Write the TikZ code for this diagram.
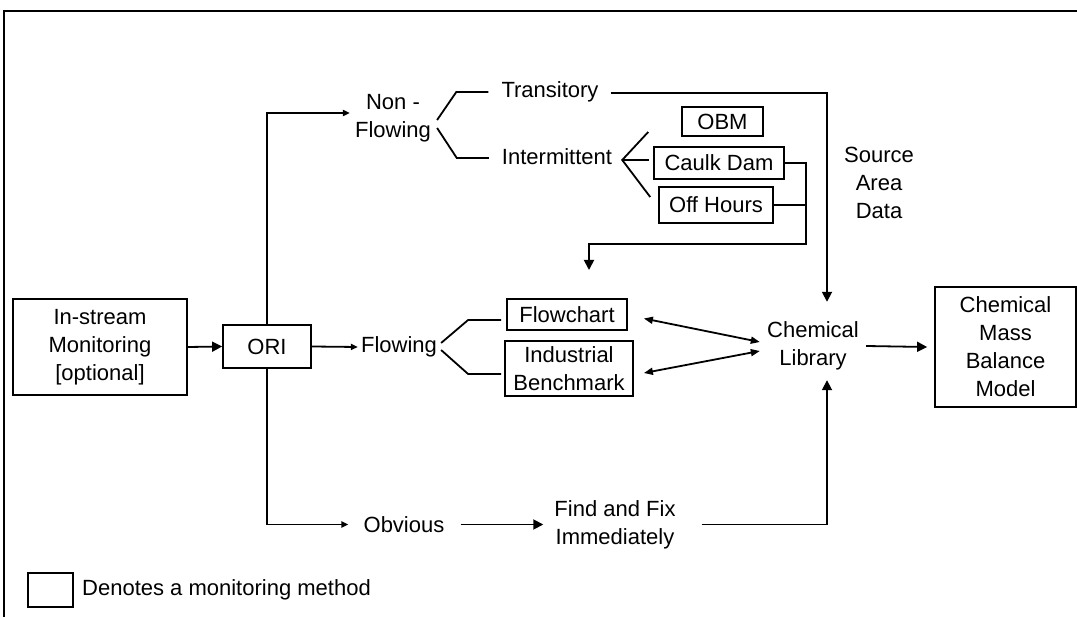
\documentclass[tikz,border=0pt]{standalone}
\usepackage{fontspec}
\setmainfont{Liberation Sans}
\usetikzlibrary{arrows.meta,calc}

\begin{document}
\begin{tikzpicture}[x=1pt,y=-1pt,
  every node/.style={font=\fontsize{22}{28}\selectfont},
  lbl/.style={inner sep=0pt, align=center},
  box/.style={draw, line width=1.8pt, inner sep=0pt, align=center},
  ln/.style={line width=1.8pt},
  arr/.style={ln, -{Triangle[length=10pt,width=10pt]}},
  arrs/.style={ln, -{Triangle[length=7pt,width=6pt]}},
  dbl/.style={ln, {Triangle[length=9pt,width=7pt]}-{Triangle[length=9pt,width=7pt]}}]

\useasboundingbox (0,0) rectangle (1077,617);

% outer frame, open at the bottom and right
\draw[line width=2.5pt] (4,620) -- (4,11) -- (1080,11);

% boxes (monitoring methods and model)
\node[box, minimum width=174pt, minimum height=96pt] (ins) at (100,347) {In-stream\\Monitoring\\{[optional]}};
\node[box, minimum width=88pt, minimum height=43pt] (ori) at (267,346.5) {ORI};
\node[box, minimum width=81pt, minimum height=29pt] (obm) at (722.5,121.5) {OBM};
\node[box, minimum width=130pt, minimum height=32pt] (cd) at (719,163) {Caulk Dam};
\node[box, minimum width=114pt, minimum height=36pt] (oh) at (716,205) {Off Hours};
\node[box, minimum width=120pt, minimum height=31pt] (fc) at (567,314.5) {Flowchart};
\node[box, minimum width=128pt, minimum height=55pt] (ib) at (569,368.5) {Industrial\\Benchmark};
\node[box, minimum width=141pt, minimum height=120pt] (cmbm) at (1005.5,347) {Chemical\\Mass\\Balance\\Model};

% plain labels
\node[lbl] (nf) at (393,118) {Non -\\Flowing};
\node[lbl] (trans) at (550,92) {Transitory};
\node[lbl] (inter) at (557,157) {Intermittent};
\node[lbl] (src) at (879,183) {Source\\Area\\Data};
\node[lbl] (flow) at (399,347) {Flowing};
\node[lbl, minimum width=106pt, minimum height=80pt] (chem) at (813,346) {Chemical\\Library};
\node[lbl] (obv) at (404,524.5) {Obvious};
\node[lbl] (ff) at (615,524.5) {Find and Fix\\Immediately};

% legend
\node[box, minimum width=45pt, minimum height=34pt] (key) at (50.5,590) {};
\node[lbl, anchor=west] (keytxt) at (82,590) {Denotes a monitoring method};

% main flow
\draw[arr] (ins.east) -- (ori.west);
\draw[arrs] (ori.east) -- ([xshift=-3pt]flow.west);
\draw[arrs] (ori.north) |- ([xshift=-5pt,yshift=5pt]nf.west);
\draw[arrs] (ori.south) |- ([xshift=-15pt]obv.west);
\draw[arr] ([xshift=16pt]obv.east) -- ([xshift=-11pt]ff.west);

% non-flowing branches
\draw[ln] ([xshift=-13pt]trans.west) -- ++(-32,0) -- ([xshift=6pt,yshift=-2pt]nf.east);
\draw[ln] ([xshift=-13pt,yshift=-1pt]inter.west) -- ++(-32,0) -- ([xshift=6pt,yshift=-10pt]nf.east);

% intermittent branches
\coordinate (iv) at ([xshift=10pt,yshift=-3pt]inter.east);
\draw[ln] ($(iv)+(26,-28)$) -- (iv) -- ($(iv)+(28,37)$);
\draw[ln] (iv) -- ([xshift=-4pt]cd.west |- iv);

% caulk dam / off hours feed back down
\coordinate (junc) at (806,244);
\coordinate (drop) at (589,270);
\draw[arr] (cd.east) -| (junc) -| (drop);
\draw[ln] (oh.east) -- (oh.east -| junc);

% flowing branches
\draw[ln] ([xshift=4pt,yshift=4pt]flow.east) -- ++(27,-23) -- ([xshift=-5pt,yshift=-5.5pt]fc.west);
\draw[ln] ([xshift=4pt,yshift=-3pt]flow.east) -- ++(27,24) -- ([xshift=-3pt,yshift=-5.5pt]ib.west);

% links to the chemical library
\draw[dbl] ([xshift=16pt,yshift=-4pt]fc.east) -- ([yshift=4pt]chem.west);
\draw[dbl] ([xshift=10pt,yshift=-4.5pt]ib.east) -- ([yshift=-5pt]chem.west);
\draw[arr] ([xshift=12pt,yshift=-1pt]trans.east) -| ([xshift=14pt,yshift=4pt]chem.north);
\draw[arr] ([xshift=26pt,yshift=0pt]ff.east) -| ([xshift=14pt,yshift=6pt]chem.south);
\draw[arr] (chem.east) -- ([xshift=-7pt]cmbm.west);
\end{tikzpicture}
\end{document}
